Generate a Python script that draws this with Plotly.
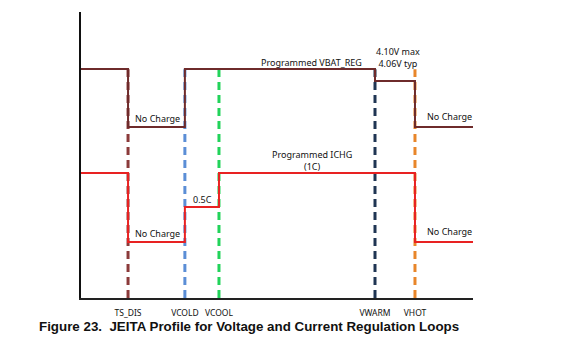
import plotly.graph_objects as go

# Threshold positions along the temperature (TS voltage) axis, arbitrary units 0-100
thresholds = ["TS_DIS", "VCOLD", "VCOOL", "VWARM", "VHOT"]
threshold_x = [12.0, 26.5, 35.2, 75.0, 85.2]
threshold_colors = ["#8B3A3A", "#5B8ED6", "#22D35A", "#1F3553", "#E8862A"]
dash_top = 80.0

# Voltage regulation profile (step)
volt_x = [0.0, 12.0, 12.0, 26.5, 26.5, 75.0, 75.0, 85.2, 85.2, 100.0]
volt_y = [80.1, 80.1, 59.8, 59.8, 80.1, 80.1, 75.9, 75.9, 59.8, 59.8]

# Current regulation profile (step)
curr_x = [0.0, 12.0, 12.0, 26.5, 26.5, 35.2, 35.2, 85.2, 85.2, 100.0]
curr_y = [43.7, 43.7, 19.6, 19.6, 31.8, 31.8, 43.7, 43.7, 19.6, 19.6]

# Labels: (text, x, y)
labels = [
    ("Programmed VBAT_REG", 58.8, 82.5),
    ("4.10V max<br>4.06V typ", 80.9, 84.1),
    ("No Charge", 19.4, 62.6),
    ("No Charge", 94.1, 63.6),
    ("Programmed ICHG<br>(1C)", 59.0, 48.1),
    ("0.5C", 31.1, 34.6),
    ("No Charge", 19.4, 22.7),
    ("No Charge", 94.1, 23.4),
]

title_text = "Figure 23.  JEITA Profile for Voltage and Current Regulation Loops"

fig = go.Figure()

for name, xv, col in zip(thresholds, threshold_x, threshold_colors):
    fig.add_trace(go.Scatter(
        x=[xv, xv], y=[0, dash_top], mode="lines",
        line=dict(color=col, width=3, dash="8px,5px"),
        hoverinfo="skip", showlegend=False,
    ))

fig.add_trace(go.Scatter(
    x=volt_x, y=volt_y, mode="lines",
    line=dict(color="#6E2B2B", width=2),
    showlegend=False,
))
fig.add_trace(go.Scatter(
    x=curr_x, y=curr_y, mode="lines",
    line=dict(color="#E82222", width=2),
    showlegend=False,
))

for text, xv, yv in labels:
    fig.add_annotation(
        x=xv, y=yv, text=text, showarrow=False,
        xanchor="center", yanchor="middle", align="center",
        font=dict(family="Noto Sans", size=9, color="#111111"),
    )

fig.add_annotation(
    x=0.4286, xref="paper", y=-0.101, yref="paper", text="<b>" + title_text + "</b>",
    showarrow=False, xanchor="center", yanchor="middle",
    font=dict(family="Liberation Sans", size=13.35, color="#111111"),
)

fig.update_layout(
    width=563, height=347,
    margin=dict(l=73, r=98, t=4, b=57),
    paper_bgcolor="white", plot_bgcolor="white",
    xaxis=dict(
        range=[0, 100], showgrid=False, zeroline=False,
        showline=True, linecolor="#222222", linewidth=2,
        tickvals=threshold_x, ticktext=thresholds, ticks="",
        tickfont=dict(family="Noto Sans", size=8.5, color="#111111"),
        ticklabelstandoff=6,
    ),
    yaxis=dict(
        range=[0, 100], showgrid=False, zeroline=False,
        showline=True, linecolor="#111111", linewidth=2,
        showticklabels=False, ticks="",
    ),
)

fig.write_html("out.html")
